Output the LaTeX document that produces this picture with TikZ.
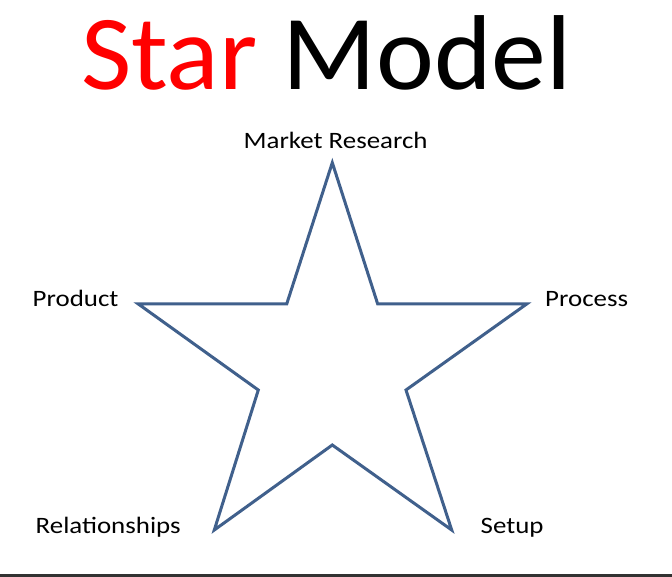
\documentclass[tikz,border=0pt]{standalone}
\usepackage{fontspec}
\setmainfont{Carlito}
\newfontfamily\lblfont[FakeStretch=1.145]{Carlito}
\newfontfamily\titlefont[FakeStretch=1.03]{Carlito}
\definecolor{starblue}{RGB}{64,96,140}
\definecolor{barGray}{RGB}{50,50,50}
\tikzset{
  lbl/.style={anchor=base west, inner sep=0pt, font=\lblfont\fontsize{23.5}{28}\selectfont},
  starline/.style={draw=starblue, line width=3pt, line join=miter}
}
\begin{document}
\begin{tikzpicture}[x=1pt,y=-1pt]
\useasboundingbox[fill=white] (0,0) rectangle (672,577);
\fill[barGray] (0,573.5) rectangle (672,577);
\node[anchor=base west, inner sep=0pt, font=\titlefont\fontsize{106.5}{120}\selectfont] (title) at (81,89.3) {\textcolor{red}{Star} Model};
\node[lbl] (mr) at (243.5,148.3) {Market Research};
\node[lbl] (prod) at (32.5,306.7) {Product};
\node[lbl] (proc) at (545,306.7) {Process};
\node[lbl] (rel) at (35.5,533.3) {Relationships};
\node[lbl] (set) at (480.5,533.3) {Setup};
\draw[starline] (332.3,162.7) -- (377.7,304) -- (526.7,304) -- (406,390) -- (451.7,530) -- (332.3,445) -- (214.3,530) -- (258.3,390) -- (138.3,304) -- (286.7,304) -- cycle;
\end{tikzpicture}
\end{document}
